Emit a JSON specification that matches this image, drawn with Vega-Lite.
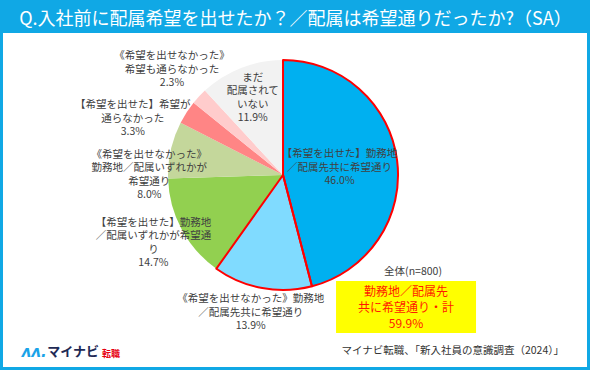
{
  "$schema": "https://vega.github.io/schema/vega-lite/v6.json",
  "width": 584,
  "height": 334,
  "autosize": "none",
  "padding": {"left": 3, "right": 3, "top": 33, "bottom": 3},
  "background": "#10A8E5",
  "config": {
    "view": {"fill": "#FFFFFF", "stroke": null},
    "font": "Noto Sans CJK JP",
    "text": {"font": "Noto Sans CJK JP"}
  },
  "title": {
    "text": "マイナビ転職、「新入社員の意識調査（2024）」",
    "orient": "bottom",
    "anchor": "end",
    "offset": -21,
    "dx": -23,
    "fontSize": 10.5,
    "fontWeight": "normal",
    "color": "#333333",
    "font": "Noto Sans CJK JP"
  },
  "datasets": {
    "slices": [
      {"group": "全体(n=800)", "order": 1, "answer": "【希望を出せた】勤務地\n／配属先共に希望通り", "pct": 46.0},
      {"group": "全体(n=800)", "order": 2, "answer": "《希望を出せなかった》勤務地\n／配属先共に希望通り", "pct": 13.9},
      {"group": "全体(n=800)", "order": 3, "answer": "【希望を出せた】勤務地\n／配属いずれかが希望通\nり", "pct": 14.7},
      {"group": "全体(n=800)", "order": 4, "answer": "《希望を出せなかった》\n勤務地／配属いずれかが\n希望通り", "pct": 8.0},
      {"group": "全体(n=800)", "order": 5, "answer": "【希望を出せた】希望が\n通らなかった", "pct": 3.3},
      {"group": "全体(n=800)", "order": 6, "answer": "《希望を出せなかった》\n希望も通らなかった", "pct": 2.3},
      {"group": "全体(n=800)", "order": 7, "answer": "まだ\n配属されて\nいない", "pct": 11.9}
    ],
    "summary": [
      {"group": "全体(n=800)", "item": "勤務地／配属先\n共に希望通り・計", "pct": 59.9}
    ]
  },
  "data": {"name": "slices"},
  "encoding": {
    "x": {
      "field": "group", "type": "nominal",
      "scale": {"type": "point", "padding": 0.5, "align": 0.4795},
      "axis": {
        "orient": "top",
        "title": "Q.入社前に配属希望を出せたか？／配属は希望通りだったか?（SA）",
        "labels": false, "ticks": false, "domain": false, "grid": false,
        "titleColor": "#FFFFFF", "titleFontSize": 18, "titleFontWeight": "normal",
        "titleFont": "Noto Sans CJK JP", "titlePadding": 5
      }
    },
    "y": {
      "field": "group", "type": "nominal",
      "scale": {"type": "point", "padding": 0.5, "align": 0.4251},
      "axis": null
    }
  },
  "layer": [
    {
      "transform": [
        {"calculate": "datum.answer + '\\n' + format(datum.pct, '.1f') + '%'", "as": "labelText"}
      ],
      "encoding": {
        "theta": {"field": "pct", "type": "quantitative", "stack": true},
        "order": {"field": "order", "type": "quantitative"},
        "detail": {"field": "answer", "type": "nominal"}
      },
      "layer": [
        {
          "mark": {"type": "arc", "radius": 115},
          "encoding": {
            "color": {
              "field": "answer", "type": "nominal",
              "sort": {"field": "order"},
              "scale": {"range": ["#00B0F0", "#80DBFF", "#92D050", "#C4D79B", "#FF8585", "#FFCCCC", "#F2F2F2"]},
              "legend": null
            }
          }
        },
        {
          "mark": {"type": "arc", "radius": 115, "fill": "transparent", "strokeWidth": 2, "strokeJoin": "round"},
          "encoding": {
            "stroke": {"condition": {"test": "datum.order <= 2", "value": "#FF0000"}, "value": "transparent"}
          }
        },
        {
          "mark": {"type": "text", "radius": 57, "dy": -13.5, "lineBreak": "\n", "fontSize": 10.5, "lineHeight": 13.5, "color": "#404040"},
          "encoding": {"text": {"condition": {"test": "datum.order === 1", "field": "labelText", "type": "nominal"}, "value": ""}}
        },
        {
          "mark": {"type": "text", "radius": 83, "dy": -20, "lineBreak": "\n", "fontSize": 10.5, "lineHeight": 13.5, "color": "#404040"},
          "encoding": {"text": {"condition": {"test": "datum.order === 7", "field": "labelText", "type": "nominal"}, "value": ""}}
        },
        {
          "mark": {"type": "text", "radius": 147, "dy": -21.5, "lineBreak": "\n", "fontSize": 10.5, "lineHeight": 13.5, "color": "#404040"},
          "encoding": {"text": {"condition": {"test": "datum.order === 3", "field": "labelText", "type": "nominal"}, "value": ""}}
        },
        {
          "mark": {"type": "text", "radius": 152, "dy": -15, "lineBreak": "\n", "fontSize": 10.5, "lineHeight": 13.5, "color": "#404040"},
          "encoding": {"text": {"condition": {"test": "datum.order === 6", "field": "labelText", "type": "nominal"}, "value": ""}}
        },
        {
          "mark": {"type": "text", "radius": 140, "dx": -7, "dy": -13.5, "lineBreak": "\n", "fontSize": 10.5, "lineHeight": 13.5, "color": "#404040"},
          "encoding": {"text": {"condition": {"test": "datum.order === 2", "field": "labelText", "type": "nominal"}, "value": ""}}
        },
        {
          "mark": {"type": "text", "radius": 160, "dx": -16, "dy": 17.5, "lineBreak": "\n", "fontSize": 10.5, "lineHeight": 13.5, "color": "#404040"},
          "encoding": {"text": {"condition": {"test": "datum.order === 5", "field": "labelText", "type": "nominal"}, "value": ""}}
        },
        {
          "mark": {"type": "text", "radius": 137, "dy": 10, "lineBreak": "\n", "fontSize": 10.5, "lineHeight": 13.5, "color": "#404040"},
          "encoding": {"text": {"condition": {"test": "datum.order === 4", "field": "labelText", "type": "nominal"}, "value": ""}}
        }
      ]
    },
    {
      "data": {"name": "summary"},
      "transform": [
        {"calculate": "datum.item + '\\n' + format(datum.pct, '.1f') + '%'", "as": "boxText"}
      ],
      "layer": [
        {
          "mark": {"type": "rect", "width": 140, "height": 52, "xOffset": 123, "yOffset": 132, "color": "#FFFF00"}
        },
        {
          "mark": {"type": "text", "dx": 123, "dy": 117, "lineBreak": "\n", "fontSize": 12, "lineHeight": 16, "color": "#FF1A00"},
          "encoding": {"text": {"field": "boxText", "type": "nominal"}}
        },
        {
          "mark": {"type": "text", "dx": 130, "dy": 97, "fontSize": 10.5, "color": "#404040"},
          "encoding": {"text": {"field": "group", "type": "nominal"}}
        }
      ]
    },
    {
      "data": {"values": [{"group": "全体(n=800)", "brand": "ʌʌ."}]},
      "mark": {"type": "text", "dx": -249, "dy": 177, "fontSize": 15, "font": "DejaVu Sans", "fontWeight": "bold", "fontStyle": "italic", "color": "#1AA3E8"},
      "encoding": {"text": {"field": "brand", "type": "nominal"}}
    },
    {
      "data": {"values": [{"group": "全体(n=800)", "brand": "マイナビ"}]},
      "mark": {"type": "text", "dx": -210, "dy": 177, "fontSize": 13, "fontWeight": "bold", "color": "#1E2A55"},
      "encoding": {"text": {"field": "brand", "type": "nominal"}}
    },
    {
      "data": {"values": [{"group": "全体(n=800)", "brand": "転職"}]},
      "mark": {"type": "text", "dx": -172, "dy": 179, "fontSize": 9, "fontWeight": "bold", "color": "#E60012"},
      "encoding": {"text": {"field": "brand", "type": "nominal"}}
    }
  ]
}
